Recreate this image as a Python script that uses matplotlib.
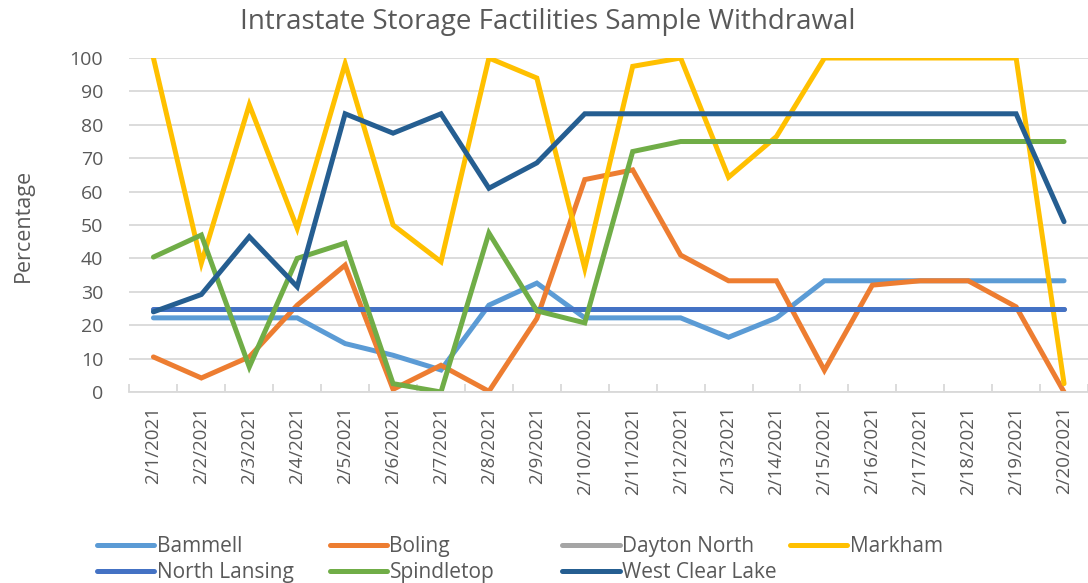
import matplotlib
matplotlib.use("Agg")
import matplotlib.pyplot as plt
import numpy as np

dates = ["2/1/2021", "2/2/2021", "2/3/2021", "2/4/2021", "2/5/2021", "2/6/2021", "2/7/2021",
         "2/8/2021", "2/9/2021", "2/10/2021", "2/11/2021", "2/12/2021", "2/13/2021", "2/14/2021",
         "2/15/2021", "2/16/2021", "2/17/2021", "2/18/2021", "2/19/2021", "2/20/2021"]

bammell = [22.2, 22.2, 22.2, 22.2, 14.5, 11, 6.6, 26, 32.6, 22.2, 22.2, 22.2, 16.4, 22.2,
           33.3, 33.3, 33.3, 33.3, 33.3, 33.3]
boling = [10.5, 4.2, 10.5, 26, 38, 0.8, 8, 0.2, 22, 63.6, 66.5, 41, 33.3, 33.3,
          6.5, 32, 33.3, 33.3, 25.5, 0]
dayton_north = [25] * 20
markham = [100, 38.6, 86, 49, 98.3, 50, 39, 100, 94, 37, 97.5, 100, 64.3, 76.5,
           100, 100, 100, 100, 100, 2.5]
north_lansing = [25] * 20
spindletop = [40.4, 47, 7.5, 40, 44.6, 2.5, 0, 47.6, 24.3, 20.7, 72, 75, 75, 75,
              75, 75, 75, 75, 75, 75]
west_clear_lake = [24, 29.2, 46.5, 31.5, 83.3, 77.5, 83.3, 61, 68.6, 83.3, 83.3, 83.3, 83.3, 83.3,
                   83.3, 83.3, 83.3, 83.3, 83.3, 51]

series = [
    ("Bammell", bammell, "#5B9BD5"),
    ("Boling", boling, "#ED7D31"),
    ("Dayton North", dayton_north, "#A5A5A5"),
    ("Markham", markham, "#FFC000"),
    ("North Lansing", north_lansing, "#4472C4"),
    ("Spindletop", spindletop, "#70AD47"),
    ("West Clear Lake", west_clear_lake, "#255E91"),
]

plt.rcParams['font.family'] = ['Open Sans', 'DejaVu Sans']
text_color = "#595959"

fig = plt.figure(figsize=(10.88, 5.83), dpi=100)
ax = fig.add_axes([0.119, 0.3276, 0.881, 0.5729])

x = np.arange(len(dates))
handles = {}
for name, vals, col in series:
    h, = ax.plot(x, vals, color=col, lw=3.6, solid_capstyle='round', solid_joinstyle='miter', label=name)
    handles[name] = h

ax.set_xlim(-0.5, len(dates) - 0.5)
ax.set_ylim(0, 100)
ax.set_yticks(np.arange(0, 101, 10))
ax.yaxis.grid(True, color="#D9D9D9", lw=1.3)
ax.set_axisbelow(True)
for s in ["top", "right", "left"]:
    ax.spines[s].set_visible(False)
ax.spines["bottom"].set_color("#D9D9D9")
ax.spines["bottom"].set_linewidth(1.3)
ax.set_xticks(x)
ax.set_xticklabels(dates, rotation=90, color=text_color, fontsize=13.5)
ax.set_xticks(np.arange(-0.5, len(dates), 1), minor=True)
ax.tick_params(axis='x', which='major', length=0, pad=10)
ax.tick_params(axis='x', which='minor', length=6, direction='in', color="#D9D9D9", width=1.3)
ax.tick_params(axis='y', length=0, labelsize=14, labelcolor=text_color, pad=19)
ax.set_ylabel("Percentage", fontsize=15.5, color=text_color)
ax.yaxis.set_label_coords(-0.1, 0.5)

fig.text(0.503, 0.962, "Intrastate Storage Factilities Sample Withdrawal", ha='center', va='center',
         fontsize=20, color=text_color)

columns = [["Bammell", "North Lansing"], ["Boling", "Spindletop"],
           ["Dayton North", "West Clear Lake"], ["Markham"]]
col_x = [0.089, 0.303, 0.517, 0.726]
for names, cx in zip(columns, col_x):
    leg = fig.legend([handles[n] for n in names], names, loc='upper left', bbox_to_anchor=(cx, 0.08),
                     frameon=False, fontsize=15, handlelength=2.75, handletextpad=0.12,
                     labelspacing=0.22, borderpad=0, borderaxespad=0)
    for t in leg.get_texts():
        t.set_color(text_color)

fig.savefig("out.png", dpi=100)
